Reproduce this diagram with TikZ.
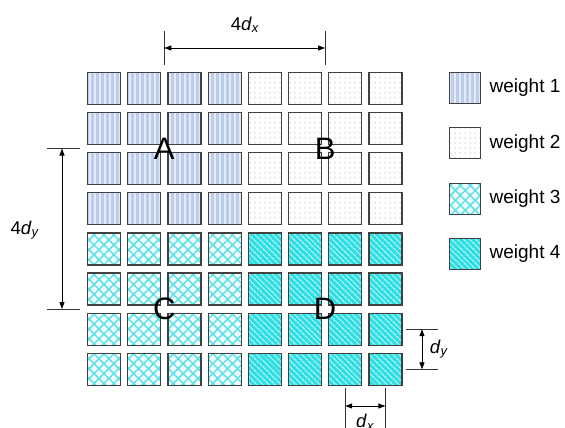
\documentclass[tikz,border=0pt]{standalone}
\usepackage{fontspec}
\setmainfont{Liberation Sans}
\usetikzlibrary{patterns.meta}
\usetikzlibrary{arrows.meta}
\usetikzlibrary{positioning}
\definecolor{cellborder}{RGB}{65,65,65}
\definecolor{wonebg}{RGB}{188,204,236}
\definecolor{wtwodot}{RGB}{196,200,224}
\definecolor{wthreeline}{RGB}{90,226,232}
\definecolor{wfourbg}{RGB}{45,222,226}
\newcommand{\keyfont}{\fontsize{19}{21}\selectfont}
\newcommand{\quadfont}{\fontsize{31}{33}\selectfont}
\newcommand{\dimfont}{\fontsize{18.5}{20}\selectfont}

\begin{document}
\begin{tikzpicture}[x=1pt, y=-1pt,
    cell/.style={rectangle, draw=cellborder, line width=1.2pt, minimum width=33pt, minimum height=32pt, inner sep=0pt},
    wone/.style={cell, preaction={fill=wonebg}, pattern={Lines[angle=90,distance=5pt,line width=1.8pt]}, pattern color=white!60!wonebg},
    wtwo/.style={cell, preaction={fill=white}, pattern={Dots[distance=5pt,radius=0.75pt]}, pattern color=wtwodot},
    wthree/.style={cell, preaction={fill=cyan!5}, pattern={Hatch[angle=45,distance=7pt,line width=1.5pt]}, pattern color=wthreeline},
    wfour/.style={cell, preaction={fill=wfourbg}, pattern={Lines[angle=-45,distance=4pt,line width=1.3pt]}, pattern color=white!65!wfourbg},
    dim/.style={{Triangle[length=7pt,width=5pt]}-{Triangle[length=7pt,width=5pt]}, line width=0.8pt},
    ext/.style={line width=0.6pt, black!80}]
    \useasboundingbox (0,0) rectangle (565,428);

    % Grid of cells
    \foreach \st/\ox/\oy in {wone/0/0, wtwo/4/0, wthree/0/4, wfour/4/4}{
        \foreach \i in {0,...,3}{
            \foreach \j in {0,...,3}{
                \pgfmathtruncatemacro\col{\ox+\i}
                \pgfmathtruncatemacro\row{\oy+\j}
                \node[\st] (c-\col-\row) at (104+40.2*\col, 88.3+40.15*\row) {};
            }
        }
    }

    % Quadrant letters
    \node[font=\quadfont] (qa) at (164.3, 148.5) {A};
    \node[font=\quadfont] (qb) at (325.1, 148.5) {B};
    \node[font=\quadfont] (qc) at (164.3, 309) {C};
    \node[font=\quadfont] (qd) at (325.1, 309) {D};

    % 4dx
    \coordinate (dxa) at (164.3, 48);
    \coordinate (dxb) at (325.1, 48);
    \draw[ext] (dxa |- 0,31) -- (dxa |- 0,65);
    \draw[ext] (dxb |- 0,31) -- (dxb |- 0,65);
    \draw[dim] (dxa) -- (dxb);
    \node[font=\dimfont] (lbldx) at (245, 25) {4\textit{d}\textsubscript{\textit{x}}};

    % 4dy
    \coordinate (dya) at (62, 148.5);
    \coordinate (dyb) at (62, 309);
    \draw[ext] (47, 148.5) -- (80, 148.5);
    \draw[ext] (47, 309) -- (80, 309);
    \draw[dim] (dya) -- (dyb);
    \node[font=\dimfont] (lbldy) at (25, 230) {4\textit{d}\textsubscript{\textit{y}}};

    % single dy
    \coordinate (sya) at (422, 329.2);
    \coordinate (syb) at (422, 369.3);
    \draw[ext] (406, 329.2) -- (438, 329.2);
    \draw[ext] (406, 369.3) -- (438, 369.3);
    \draw[dim] (sya) -- (syb);
    \node[font=\dimfont] (lblsy) at (439, 349) {\textit{d}\textsubscript{\textit{y}}};

    % single dx
    \coordinate (sxa) at (345.2, 406);
    \coordinate (sxb) at (385.4, 406);
    \draw[ext] (345.2, 388) -- (345.2, 428);
    \draw[ext] (385.4, 388) -- (385.4, 428);
    \draw[dim] (sxa) -- (sxb);
    \node[font=\dimfont] (lblsx) at (365.3, 422.5) {\textit{d}\textsubscript{\textit{x}}};

    % Legend
    \foreach \k/\st in {1/wone, 2/wtwo, 3/wthree, 4/wfour}{
        \node[\st, minimum width=31pt, minimum height=31pt] (key\k) at (465, 32.4+55.4*\k) {};
        \node[font=\keyfont, right=5pt of key\k] (keytxt\k) {weight \k};
    }
\end{tikzpicture}
\end{document}
